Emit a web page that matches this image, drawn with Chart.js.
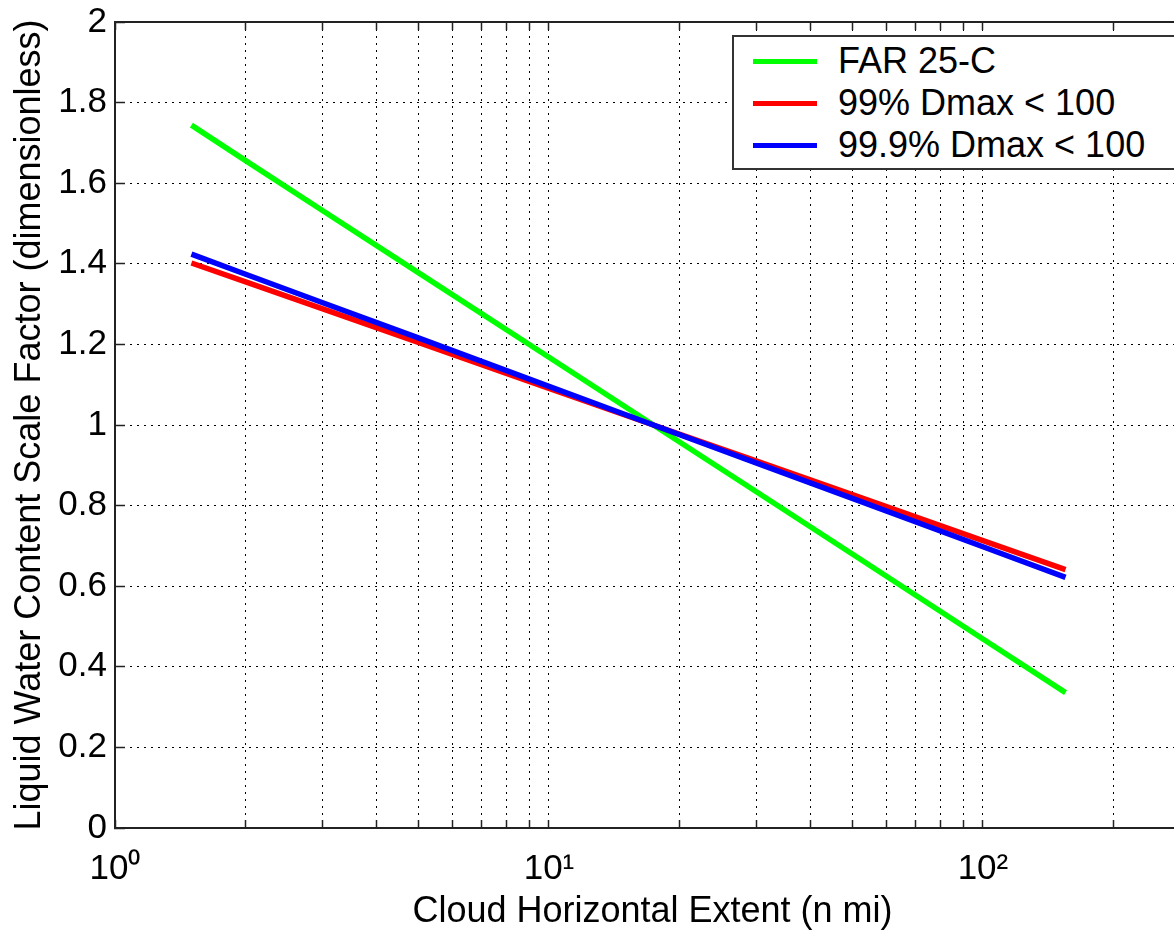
<!DOCTYPE html>
<html>
<head>
<meta charset="utf-8">
<title>Liquid Water Content Scale Factor</title>
<script src="https://cdn.jsdelivr.net/npm/chart.js@4"></script>
<style>
    html, body { margin: 0; padding: 0; background: #fff; overflow: hidden; }
    #wrap { position: relative; width: 1174px; height: 932px; overflow: hidden; }
    #lwcChart { position: absolute; left: 0; top: 0; }
    .legend {
        position: absolute; left: 732px; top: 35px; width: 460px; height: 131px;
        border: 2px solid #333; background: #fff;
        font-family: "Liberation Sans", Arial, Helvetica, sans-serif; font-size: 36px; color: #000;
    }
    .legend-row { position: absolute; left: 0; height: 42px; display: flex; align-items: center; white-space: nowrap; }
    .legend-swatch { width: 64px; height: 5px; margin-left: 19px; margin-right: 21px; }
</style>
</head>
<body>
<div id="wrap">
    <!-- plot box runs on past the visible right edge, up to x = 300 -->
    <canvas id="lwcChart" width="1200" height="932"></canvas>
    <div id="legend" class="legend"></div>
</div>
<script>
// cloud horizontal extent, n mi
const extentNmi = [1.5, 2, 3, 5, 10, 17.4, 30, 50, 100, 155];

// scale factor curves
const far25c  = [1.744, 1.656, 1.533, 1.378, 1.168, 1.0, 0.835, 0.680, 0.469, 0.336];
const dmax99  = [1.402, 1.355, 1.289, 1.205, 1.091, 1.0, 0.911, 0.827, 0.713, 0.641];
const dmax999 = [1.424, 1.374, 1.304, 1.216, 1.096, 1.0, 0.906, 0.818, 0.698, 0.622];

const seriesNames = ['FAR 25-C', '99% Dmax < 100', '99.9% Dmax < 100'];
const seriesColors = ['#00ff00', '#ff0000', '#0000ff'];

// axis range and ticks
const xMin = 1, xMax = 300;
const xGridValues = [1, 2, 3, 4, 5, 6, 7, 8, 9, 10, 20, 30, 40, 50, 60, 70, 80, 90, 100, 200];
const xDecades = [1, 10, 100];
const xDecadeLabels = ['10\u2070', '10\u00b9', '10\u00b2'];
const yTickValues = [0, 0.2, 0.4, 0.6, 0.8, 1, 1.2, 1.4, 1.6, 1.8, 2];

const FONT = '"Liberation Sans", Arial, Helvetica, sans-serif';
const GRID_DASH = [2, 5];

function toPoints(xs, ys) {
    return xs.map((x, i) => ({x: x, y: ys[i]}));
}

function xTicks(scale) {
    scale.ticks = xGridValues.map(v => ({value: v, major: xDecades.includes(v)}));
}

// fixed axis sizes; drop the label overhang padding so the plot box stays put
function fixHeight(h) {
    return s => { s.height = h; s.paddingLeft = 0; s.paddingRight = 0; };
}
function fixWidth(w) {
    return s => { s.width = w; s.paddingTop = 0; s.paddingBottom = 0; };
}

const datasets = [far25c, dmax99, dmax999].map((vals, i) => ({
    label: seriesNames[i],
    data: toPoints(extentNmi, vals),
    borderColor: seriesColors[i],
    backgroundColor: seriesColors[i],
    borderWidth: 5.5,
    pointRadius: 0,
    tension: 0,
    fill: false,
    order: 2 - i  // later curves on top
}));

const ctx = document.getElementById('lwcChart').getContext('2d');
const chart = new Chart(ctx, {
    type: 'line',
    data: {datasets: datasets},
    options: {
        responsive: false,
        animation: false,
        events: [],
        layout: {padding: {left: 0, right: 10, top: 0, bottom: 0}},
        plugins: {legend: {display: false}, tooltip: {enabled: false}},
        scales: {
            x: {
                type: 'logarithmic',
                position: 'bottom',
                min: xMin,
                max: xMax,
                afterBuildTicks: xTicks,
                afterFit: fixHeight(104),
                grid: {
                    color: '#000', lineWidth: 1,
                    drawTicks: true, tickLength: -8, tickColor: '#222', tickWidth: 1.5
                },
                border: {display: true, color: '#222', width: 2, dash: GRID_DASH},
                ticks: {
                    autoSkip: false, maxRotation: 0, padding: 32, color: '#000',
                    font: {family: FONT, size: 35, lineHeight: 1},
                    callback: v => {
                        const k = xDecades.indexOf(v);
                        return k >= 0 ? xDecadeLabels[k] : '';
                    }
                },
                title: {
                    display: true, text: 'Cloud Horizontal Extent (n mi)', color: '#000',
                    font: {family: FONT, size: 36, lineHeight: 1},
                    padding: {top: 0, bottom: 2}
                }
            },
            xTop: {
                type: 'logarithmic',
                position: 'top',
                min: xMin,
                max: xMax,
                afterBuildTicks: xTicks,
                afterFit: fixHeight(22),
                grid: {
                    drawOnChartArea: false,
                    drawTicks: true, tickLength: -8, tickColor: '#222', tickWidth: 1.5
                },
                border: {display: true, color: '#222', width: 2},
                ticks: {display: false}
            },
            y: {
                type: 'linear',
                position: 'left',
                min: 0,
                max: 2,
                afterBuildTicks: s => { s.ticks = yTickValues.map(v => ({value: v})); },
                afterFit: fixWidth(115),
                grid: {
                    color: '#000', lineWidth: 1,
                    drawTicks: true, tickLength: -10, tickColor: '#222', tickWidth: 1.5
                },
                border: {display: true, color: '#222', width: 2, dash: GRID_DASH},
                ticks: {
                    padding: 18, color: '#000',
                    font: {family: FONT, size: 35, lineHeight: 1},
                    callback: v => String(v)
                },
                title: {
                    display: true, text: 'Liquid Water Content Scale Factor (dimensionless)', color: '#000',
                    font: {family: FONT, size: 36, lineHeight: 1},
                    padding: {top: 12, bottom: 0}
                }
            }
        }
    }
});

// boxed legend in the upper right of the plot
const legendEl = document.getElementById('legend');
chart.data.datasets.forEach((ds, i) => {
    const row = document.createElement('div');
    row.className = 'legend-row';
    row.style.top = (3 + 42 * i) + 'px';
    const sw = document.createElement('span');
    sw.className = 'legend-swatch';
    sw.style.background = ds.borderColor;
    const txt = document.createElement('span');
    txt.textContent = ds.label;
    row.appendChild(sw);
    row.appendChild(txt);
    legendEl.appendChild(row);
});
</script>
</body>
</html>
